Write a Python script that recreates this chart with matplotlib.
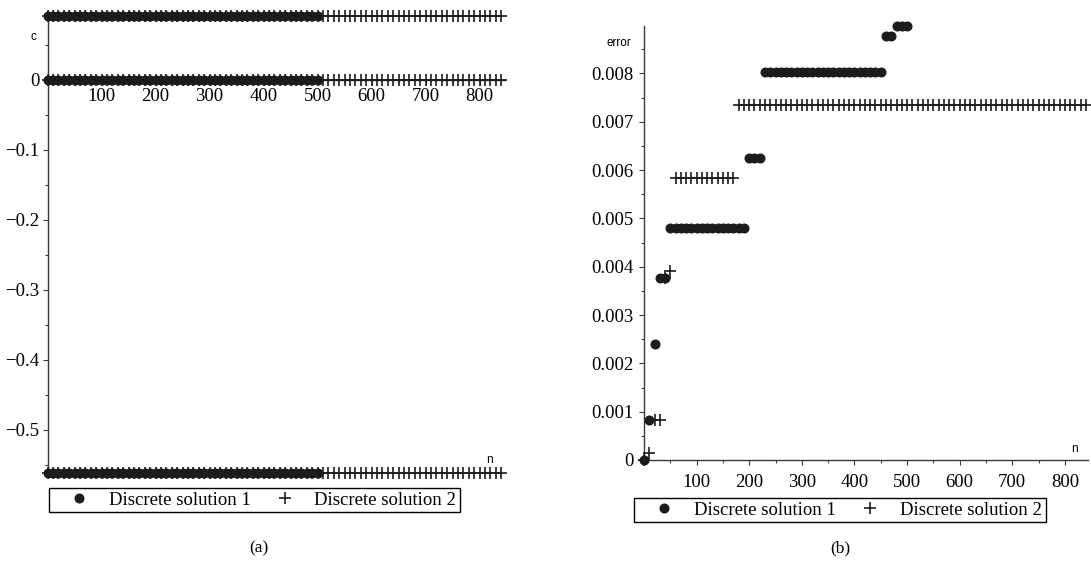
import matplotlib
matplotlib.use("Agg")
import matplotlib.pyplot as plt
from matplotlib.ticker import FixedLocator, FuncFormatter

plt.rcParams['font.family'] = ['Liberation Serif', 'DejaVu Serif']

# (a): values of c on the three rows, the same for both solutions
C_ROWS = [0.0914, 0.0, -0.562]
N_STEP = 10
N_LAST_1 = 500   # solution 1 stops at n = 500
N_LAST_2 = 840   # solution 2 goes on to n = 840

# (b): error, read as plateaus (n_first, n_last, value)
ERR_1 = [
    (0, 0, 0.0),
    (10, 10, 0.00083),
    (20, 20, 0.0024),
    (30, 40, 0.00376),
    (50, 190, 0.0048),
    (200, 220, 0.00624),
    (230, 450, 0.00802),
    (460, 470, 0.00878),
    (480, 500, 0.00899),
]
ERR_2 = [
    (0, 0, 0.0),
    (10, 10, 0.00014),
    (20, 30, 0.00083),
    (40, 40, 0.00376),
    (50, 50, 0.00392),
    (60, 170, 0.00584),
    (180, 840, 0.00734),
]

LABELS = ["Discrete solution 1", "Discrete solution 2"]
INK = '#1c1c1c'
AXIS = '#3a3a3a'
FS = 13.5


def expand(steps):
    ns, vals = [], []
    for a, b, v in steps:
        for n in range(a, b + 1, N_STEP):
            ns.append(n)
            vals.append(v)
    return ns, vals


def minus(s):
    return s.replace('-', '\u2212')


def maple_axes(ax, xpad, ypad):
    for side in ('top', 'right'):
        ax.spines[side].set_visible(False)
    for side in ('left', 'bottom'):
        ax.spines[side].set_position(('data', 0))
        ax.spines[side].set_color(AXIS)
        ax.spines[side].set_linewidth(1.0)
    ax.patch.set_visible(False)
    ax.tick_params(which='both', direction='out', color=AXIS, width=0.8,
                   labelsize=FS)
    ax.tick_params(which='major', length=3.5)
    ax.tick_params(which='minor', length=2.0)
    ax.tick_params(axis='x', which='major', pad=xpad)
    ax.tick_params(axis='y', which='major', pad=ypad)
    ax.xaxis.set_major_locator(FixedLocator(range(100, 900, 100)))
    ax.xaxis.set_minor_locator(FixedLocator(range(50, 850, 50)))


def plot_pair(ax, n1, y1, n2, y2):
    h1, = ax.plot(n1, y1, 'o', ms=6.2, color=INK, clip_on=False, zorder=3,
                  label=LABELS[0])
    h2, = ax.plot(n2, y2, '+', ms=8.5, mew=1.2, color=INK, clip_on=False,
                  zorder=4, label=LABELS[1])
    return h1, h2


def add_legend(ax, handles, cx, cy):
    leg = ax.legend(handles=handles, loc='center', ncol=2,
                    bbox_to_anchor=(cx, cy), bbox_transform=fig.transFigure,
                    fontsize=FS, frameon=True, fancybox=False, framealpha=1,
                    edgecolor='black', borderpad=0.2, handlelength=2.8,
                    handletextpad=0.2, columnspacing=0.4, borderaxespad=0)
    leg.get_frame().set_linewidth(1.0)


W, H = 1091, 561
fig = plt.figure(figsize=(W / 100, H / 100), dpi=100)

# ---- (a) ----
ax_a = fig.add_axes([47.6 / W, (H - 473) / H, (505 - 47.6) / W, (473 - 16) / H])
ax_a.set_xlim(0, 847)
ax_a.set_ylim(C_ROWS[2], C_ROWS[0])
maple_axes(ax_a, xpad=2.5, ypad=2.5)
ax_a.yaxis.set_major_locator(FixedLocator([0, -0.1, -0.2, -0.3, -0.4, -0.5]))
ax_a.yaxis.set_minor_locator(FixedLocator([0.05, -0.05, -0.15, -0.25, -0.35,
                                           -0.45, -0.55]))
ax_a.yaxis.set_major_formatter(
    FuncFormatter(lambda v, p: '0' if abs(v) < 1e-9 else minus(f'{v:.1f}')))

n1 = list(range(0, N_LAST_1 + 1, N_STEP))
n2 = list(range(0, N_LAST_2 + 1, N_STEP))
for c in C_ROWS:
    handles_a = plot_pair(ax_a, n1, [c] * len(n1), n2, [c] * len(n2))

fig.text(33 / W, 1 - 37 / H, 'c', family='Liberation Sans', fontsize=8.5,
         ha='center', va='center')
fig.text(489 / W, 1 - 460 / H, 'n', family='Liberation Sans', fontsize=8.5,
         ha='center', va='center')
add_legend(ax_a, handles_a, 254.5 / W, 1 - 500 / H)
fig.text(259 / W, 1 - 548 / H, '(a)', fontsize=12.5, ha='center', va='center')

# ---- (b) ----
ax_b = fig.add_axes([644 / W, (H - 460) / H, 444 / W, (460 - 26) / H])
ax_b.set_xlim(0, 844)
ax_b.set_ylim(0, 0.00898)
maple_axes(ax_b, xpad=6.5, ypad=3.8)
ax_b.yaxis.set_major_locator(FixedLocator([i / 1000 for i in range(0, 9)]))
ax_b.yaxis.set_minor_locator(FixedLocator([(2 * i + 1) / 2000 for i in range(9)]))
ax_b.yaxis.set_major_formatter(
    FuncFormatter(lambda v, p: '0' if abs(v) < 1e-12 else f'{v:.3f}'))

e1n, e1v = expand(ERR_1)
e2n, e2v = expand(ERR_2)
handles_b = plot_pair(ax_b, e1n, e1v, e2n, e2v)

fig.text(619 / W, 1 - 43 / H, 'error', family='Liberation Sans', fontsize=8.5,
         ha='center', va='center')
fig.text(1074 / W, 1 - 449 / H, 'n', family='Liberation Sans', fontsize=8.5,
         ha='center', va='center')
add_legend(ax_b, handles_b, 840 / W, 1 - 510 / H)
fig.text(840 / W, 1 - 548 / H, '(b)', fontsize=12.5, ha='center', va='center')

fig.savefig('out.png', dpi=100)
